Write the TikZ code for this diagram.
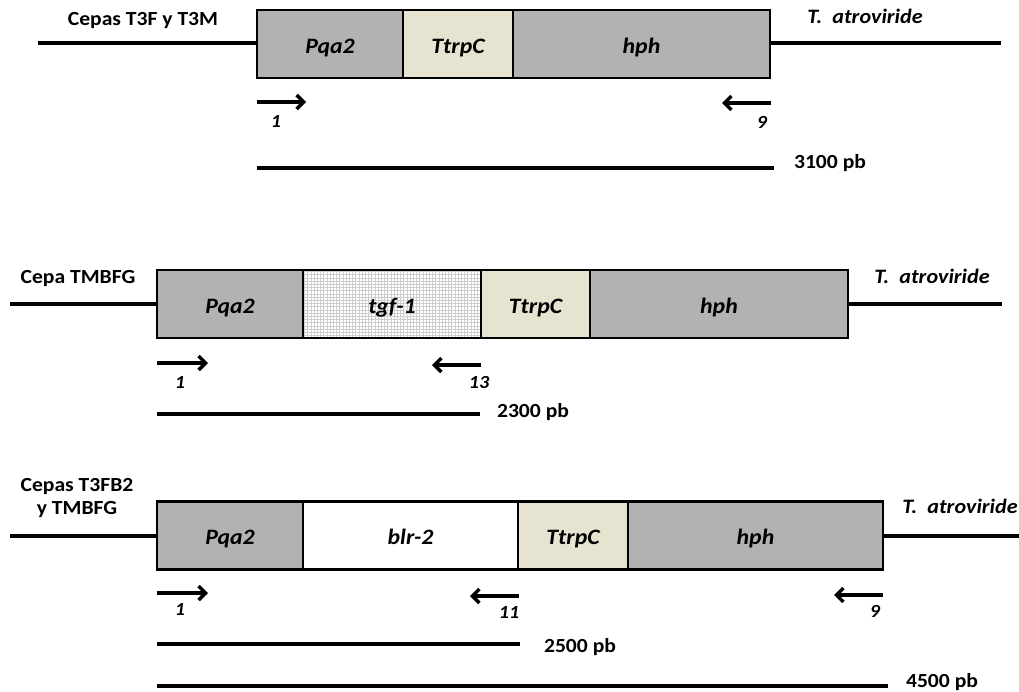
\documentclass[tikz,border=0pt]{standalone}
\usepackage{fontspec}
\setmainfont{Carlito}[FakeStretch=1.08]
\usetikzlibrary{arrows.meta}
\definecolor{boxgray}{RGB}{178,178,178}
\definecolor{beige}{RGB}{230,227,208}
\definecolor{gridgray}{RGB}{205,205,205}
\begin{document}
\begin{tikzpicture}[x=1pt,y=-1pt,
  seg/.style={draw=black, line width=2.4pt, minimum height=68pt, inner sep=0pt, outer sep=0pt,
    text height=18pt, text depth=0pt, font=\fontsize{22}{26}\selectfont\bfseries\itshape},
  grayseg/.style={seg, fill=boxgray},
  beigeseg/.style={seg, fill=beige},
  whiteseg/.style={seg, fill=white},
  gridseg/.style={seg, fill=white, path picture={
      \draw[gridgray, line width=0.6pt, step=3.2pt] (path picture bounding box.south west) grid (path picture bounding box.north east);}},
  dna/.style={line width=3.2pt},
  size/.style={line width=3.1pt},
  primer/.style={line width=3.5pt, -{Straight Barb[length=7pt,width=14pt]}},
  lab/.style={anchor=base, font=\fontsize{20}{24}\selectfont\bfseries},
  species/.style={anchor=base, font=\fontsize{20.5}{24}\selectfont\bfseries\itshape},
  num/.style={anchor=base, font=\fontsize{18.5}{20}\selectfont\bfseries\itshape},
]
\useasboundingbox (0,0) rectangle (1019,691);

% ---------------- Row 1 ----------------
\node[grayseg, minimum width=146pt] (r1p) at (330,44) {Pqa2};
\node[beigeseg, minimum width=110pt] (r1t) at (458,44) {TtrpC};
\node[grayseg, minimum width=257pt] (r1h) at (641.5,44) {hph};
\coordinate (r1L) at (38,43);
\coordinate (r1R) at (1001,43);
\draw[dna] (r1L) -- (r1p.west |- r1L);
\draw[dna] (r1h.east |- r1R) -- (r1R);
\node[lab] (r1name) at (143,25) {Cepas T3F y T3M};
\node[species] (r1sp) at (865,23) {T.\ \ atroviride};
\coordinate (r1a1s) at (257,102); \coordinate (r1a1e) at (306,102);
\draw[primer] (r1a1s) -- (r1a1e);
\node[num] (r1n1) at (276,127) {1};
\coordinate (r1a9s) at (771,103); \coordinate (r1a9e) at (722,103);
\draw[primer] (r1a9s) -- (r1a9e);
\node[num] (r1n9) at (762,128) {9};
\coordinate (r1sz1) at (257,168); \coordinate (r1sz2) at (774,168);
\draw[size] (r1sz1) -- (r1sz2);
\node[lab] (r1pb) at (830,168) {3100 pb};

% ---------------- Row 2 ----------------
\node[grayseg, minimum width=146pt] (r2p) at (230,304) {Pqa2};
\node[gridseg, minimum width=178pt] (r2g) at (392,304) {tgf-1};
\node[beigeseg, minimum width=109pt] (r2t) at (535.5,304) {TtrpC};
\node[grayseg, minimum width=258pt] (r2h) at (719,304) {hph};
\coordinate (r2L) at (10,304);
\coordinate (r2R) at (1002,304);
\draw[dna] (r2L) -- (r2p.west);
\draw[dna] (r2h.east) -- (r2R);
\node[lab] (r2name) at (78,283) {Cepa TMBFG};
\node[species] (r2sp) at (932,283) {T.\ \ atroviride};
\coordinate (r2a1s) at (157,363); \coordinate (r2a1e) at (208,363);
\draw[primer] (r2a1s) -- (r2a1e);
\node[num] (r2n1) at (180,388) {1};
\coordinate (r2a13s) at (481,365); \coordinate (r2a13e) at (432,365);
\draw[primer] (r2a13s) -- (r2a13e);
\node[num] (r2n13) at (479,388) {13};
\coordinate (r2sz1) at (157,414); \coordinate (r2sz2) at (480,414);
\draw[size] (r2sz1) -- (r2sz2);
\node[lab] (r2pb) at (533,417) {2300 pb};

% ---------------- Row 3 ----------------
\node[grayseg, minimum width=146pt] (r3p) at (230,535.5) {Pqa2};
\node[whiteseg, minimum width=215pt] (r3b) at (410.5,535.5) {blr-2};
\node[beigeseg, minimum width=110pt] (r3t) at (573,535.5) {TtrpC};
\node[grayseg, minimum width=255pt] (r3h) at (755.5,535.5) {hph};
\coordinate (r3L) at (10,536);
\coordinate (r3R) at (1019,536);
\draw[dna] (r3L) -- (r3p.west |- r3L);
\draw[dna] (r3h.east |- r3R) -- (r3R);
\node[lab, align=center, anchor=base] (r3name) at (77,514) {Cepas T3FB2\\[-1pt]y TMBFG};
\node[species] (r3sp) at (960,513) {T.\ \ atroviride};
\coordinate (r3a1s) at (157,593); \coordinate (r3a1e) at (208,593);
\draw[primer] (r3a1s) -- (r3a1e);
\node[num] (r3n1) at (180,615) {1};
\coordinate (r3a11s) at (519,596); \coordinate (r3a11e) at (470,596);
\draw[primer] (r3a11s) -- (r3a11e);
\node[num] (r3n11) at (509,618) {11};
\coordinate (r3a9s) at (883,595); \coordinate (r3a9e) at (834,595);
\draw[primer] (r3a9s) -- (r3a9e);
\node[num] (r3n9) at (875,617) {9};
\coordinate (r3sz1) at (157,644); \coordinate (r3sz2) at (520,644);
\draw[size] (r3sz1) -- (r3sz2);
\node[lab] (r3pb1) at (580,652) {2500 pb};
\coordinate (r3sz3) at (157,686); \coordinate (r3sz4) at (888,686);
\draw[size] (r3sz3) -- (r3sz4);
\node[lab] (r3pb2) at (942,687) {4500 pb};
\end{tikzpicture}
\end{document}
